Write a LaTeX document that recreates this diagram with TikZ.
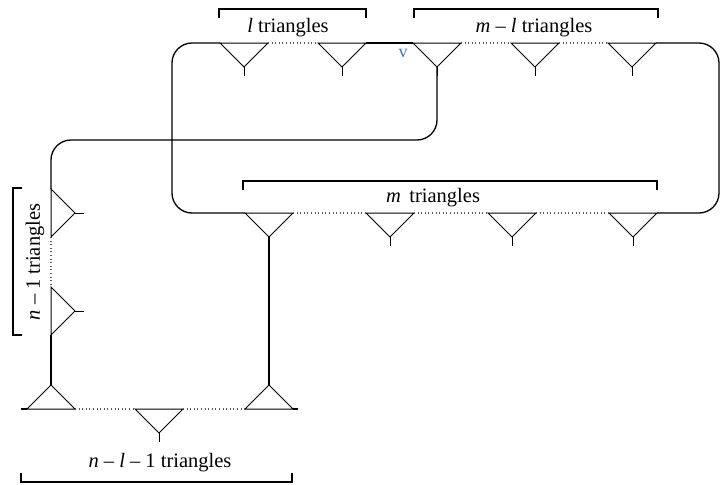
\documentclass[tikz,border=0pt]{standalone}
\usepackage{fontspec}
\setmainfont{Liberation Serif}
\definecolor{vblue}{RGB}{68,114,196}
\definecolor{dotgray}{RGB}{90,90,90}
\usetikzlibrary{calc}

\begin{document}
\begin{tikzpicture}[x=1pt,y=-1pt,
  link/.style={line width=1.3pt,rounded corners=20pt},
  gap/.style={line width=1.1pt,dash pattern=on 1pt off 2.6pt,dotgray},
  brace/.style={line width=1.3pt},
  lbl/.style={font=\fontsize{20.5}{24}\selectfont,inner sep=0pt},
  tridown/.pic={\draw[line width=1pt] (-24,0) coordinate (-l) -- (24,0) coordinate (-r)
      -- (0,24) coordinate (-a) -- cycle;
    \draw[line width=1pt] (0,24) -- (0,33) coordinate (-s);},
  triup/.pic={\draw[line width=1pt] (-24,0) coordinate (-l) -- (24,0) coordinate (-r)
      -- (0,-24) coordinate (-a) -- cycle;},
  triright/.pic={\draw[line width=1pt] (0,-24) coordinate (-t) -- (0,24) coordinate (-b)
      -- (24,0) coordinate (-a) -- cycle;
    \draw[line width=1pt] (24,0) -- (33,0) coordinate (-s);}
]
  \useasboundingbox (0,0) rectangle (721,485);
  % Top row
  \pic (t1) at (244,43) {tridown};
  \pic (t2) at (342,43) {tridown};
  \pic (t3) at (437,43) {tridown};
  \pic (t4) at (535,43) {tridown};
  \pic (t5) at (632,43) {tridown};
  \node[font=\fontsize{18}{20}\selectfont,text=vblue,inner sep=0pt] (v) at (403,53) {v};
  % Middle row
  \pic (m1) at (269,213) {tridown};
  \pic (m2) at (390,213) {tridown};
  \pic (m3) at (512,213) {tridown};
  \pic (m4) at (633,213) {tridown};
  % Left column
  \pic (k1) at (51,213) {triright};
  \pic (k2) at (51,311) {triright};
  % Bottom row
  \pic (b1) at (51,409) {triup};
  \pic (b2) at (159,409) {tridown};
  \pic (b3) at (269,409) {triup};
  % corners
  \coordinate (nw) at (172,43);
  \coordinate (sw) at (172,213);
  \coordinate (ne) at (719,43);
  \coordinate (se) at (719,213);
  \coordinate (ve) at (437,140);
  \coordinate (vw) at (51,140);
  \coordinate (bw) at (21,409);
  \coordinate (be) at (298,409);
  % Connections
  \draw[link] (m1-l) -- (sw) -- (nw) -- (t1-l);
  \draw[link] (t2-r) -- (t3-l);
  \draw[link] (t5-r) -- (ne) -- (se) -- (m4-r);
  \draw[link] (t3-a) -- (ve) -- (vw) -- (k1-t);
  \draw[link] (k2-b) -- (b1-a);
  \draw[link] (m1-a) -- (b3-a);
  \draw[link] (bw) -- (b1-l);
  \draw[link] (b3-r) -- (be);
  \draw[gap] (t1-r) -- (t2-l);
  \draw[gap] (t3-r) -- (t4-l);
  \draw[gap] (t4-r) -- (t5-l);
  \draw[gap] (m1-r) -- (m2-l);
  \draw[gap] (m2-r) -- (m3-l);
  \draw[gap] (m3-r) -- (m4-l);
  \draw[gap] (k1-b) -- (k2-t);
  \draw[gap] (b1-r) -- (b2-l);
  \draw[gap] (b2-r) -- (b3-l);
  % Brackets and labels
  \draw[brace] (219,18) -- (219,9) -- (366,9) -- (366,18);
  \node[lbl] (ltop) at (288,28) {\textit{l} triangles};
  \draw[brace] (414,18) -- (414,9) -- (658,9) -- (658,18);
  \node[lbl] (mltop) at (534,28) {\textit{m} – \textit{l} triangles};
  \draw[brace] (243,190) -- (243,181) -- (657,181) -- (657,190);
  \node[lbl] (mmid) at (433,198) {\textit{m}\, triangles};
  \draw[brace] (22,188) -- (13,188) -- (13,335) -- (22,335);
  \node[lbl,rotate=90] (nleft) at (35,262) {\textit{n} – 1 triangles};
  \draw[brace] (21,473) -- (21,482) -- (292,482) -- (292,473);
  \node[lbl] (nbot) at (160,463) {\textit{n} – \textit{l} – 1 triangles};
\end{tikzpicture}
\end{document}
